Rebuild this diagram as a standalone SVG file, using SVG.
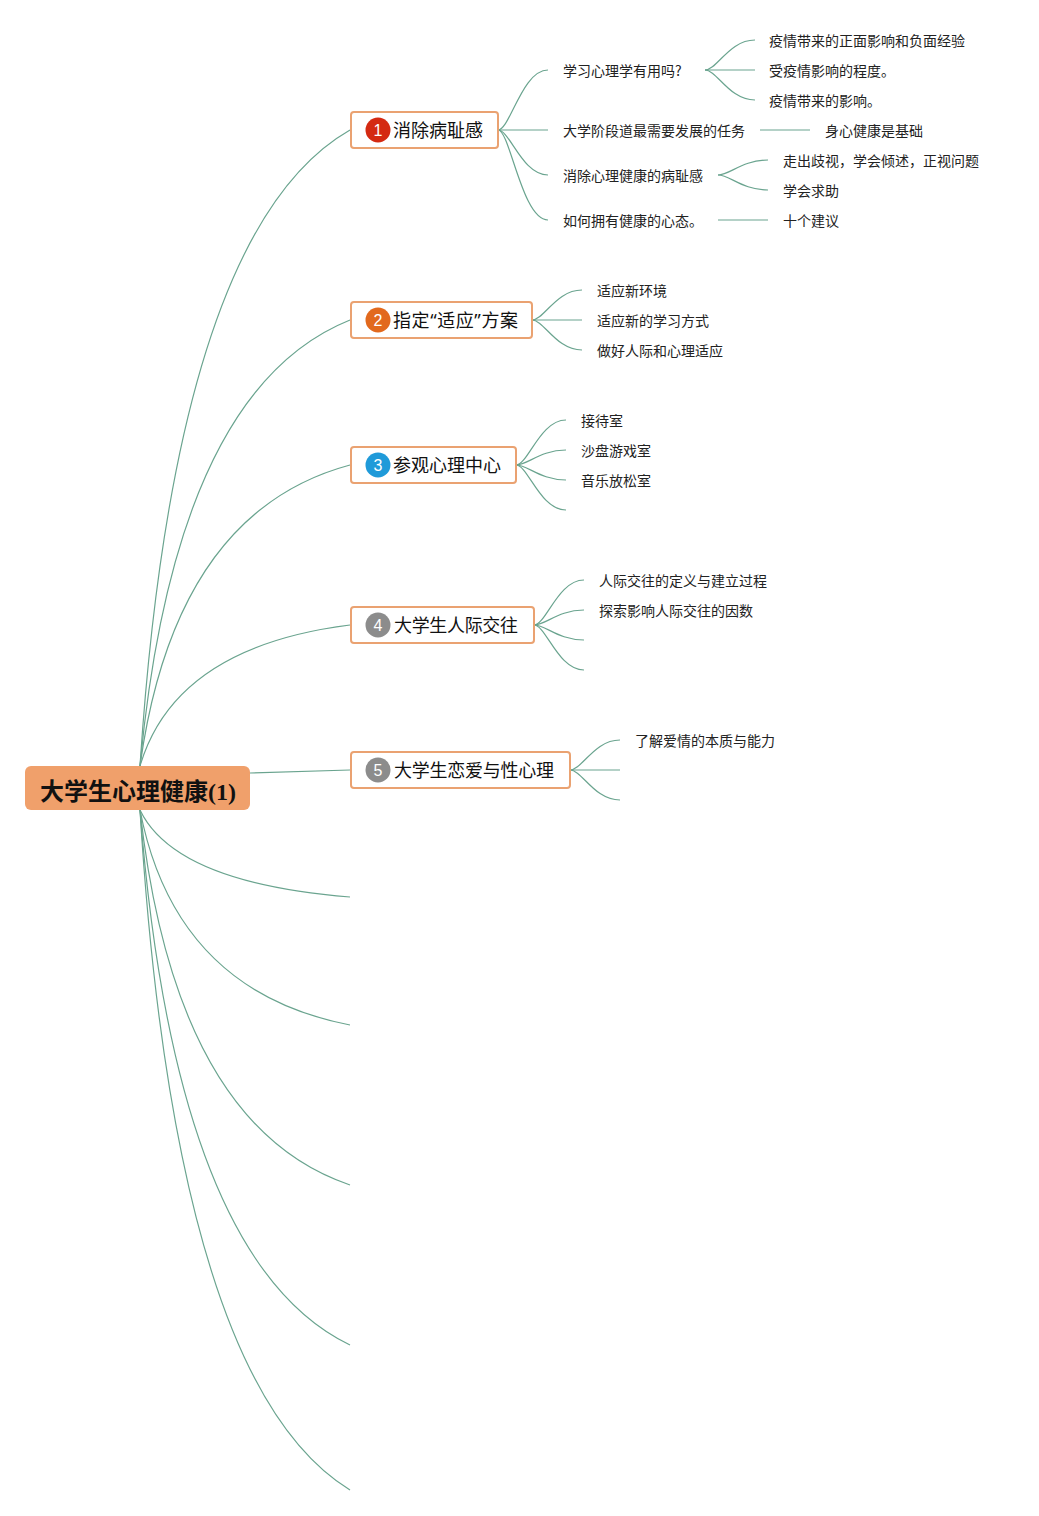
<svg xmlns="http://www.w3.org/2000/svg" width="1039" height="1516" viewBox="0 0 1039 1516">
<style>
.ln{fill:none;stroke:#6aa48f;stroke-width:1.2}
.box{fill:#fff;stroke:#eaa271;stroke-width:2}
.nt{font-family:"Noto Sans CJK SC",sans-serif;font-size:18px;fill:#111}
.q{font-family:"Noto Sans","Liberation Sans",sans-serif}
.lf{font-family:"Noto Sans CJK SC",sans-serif;font-size:14px;fill:#222}
.num{font-family:"Liberation Sans",sans-serif;font-size:16px;fill:#fff;text-anchor:middle}
</style>
<rect width="1039" height="1516" fill="#fff"/>
<g id="connectors">
<path class="ln" d="M140,766 Q175,230 350,130"/>
<path class="ln" d="M140,766 Q175,390 350,320"/>
<path class="ln" d="M140,766 Q175,512 350,465"/>
<path class="ln" d="M140,766 Q175,647 350,625"/>
<path class="ln" d="M250,773 L350,770"/>
<path class="ln" d="M140,810 Q175,883 350,897"/>
<path class="ln" d="M140,810 Q175,991 350,1025"/>
<path class="ln" d="M140,810 Q175,1126 350,1185"/>
<path class="ln" d="M140,810 Q175,1261 350,1345"/>
<path class="ln" d="M140,810 Q175,1383 350,1490"/>
<path class="ln" d="M498,130 C510,130 522,70 548,70"/>
<path class="ln" d="M498,130 L548,130"/>
<path class="ln" d="M498,130 C510,130 522,175 548,175"/>
<path class="ln" d="M498,130 C510,130 522,220 548,220"/>
<path class="ln" d="M705,70 C717,70 729,40 755,40"/>
<path class="ln" d="M705,70 L755,70"/>
<path class="ln" d="M705,70 C717,70 729,100 755,100"/>
<path class="ln" d="M760,130 L810,130"/>
<path class="ln" d="M718,175 C730,175 742,160 768,160"/>
<path class="ln" d="M718,175 C730,175 742,190 768,190"/>
<path class="ln" d="M718,220 L768,220"/>
<path class="ln" d="M532,320 C544,320 556,290 582,290"/>
<path class="ln" d="M532,320 L582,320"/>
<path class="ln" d="M532,320 C544,320 556,350 582,350"/>
<path class="ln" d="M516,465 C528,465 540,420 566,420"/>
<path class="ln" d="M516,465 C528,465 540,450 566,450"/>
<path class="ln" d="M516,465 C528,465 540,480 566,480"/>
<path class="ln" d="M516,465 C528,465 540,510 566,510"/>
<path class="ln" d="M534,625 C546,625 558,580 584,580"/>
<path class="ln" d="M534,625 C546,625 558,610 584,610"/>
<path class="ln" d="M534,625 C546,625 558,640 584,640"/>
<path class="ln" d="M534,625 C546,625 558,670 584,670"/>
<path class="ln" d="M570,770 C582,770 594,740 620,740"/>
<path class="ln" d="M570,770 L620,770"/>
<path class="ln" d="M570,770 C582,770 594,800 620,800"/>
</g>
<g id="root">
<rect x="25" y="766" width="225" height="44" rx="6" fill="#f0a06b"/>
<text x="40" y="800" font-size="24" font-weight="bold" fill="#111"><tspan font-family="Noto Sans CJK SC, sans-serif">大学生心理健康</tspan><tspan font-family="Liberation Serif, serif">(1)</tspan></text>
</g>
<g id="n1">
<rect class="box" x="351" y="112" width="147" height="36" rx="3"/>
<circle cx="378" cy="130" r="12.5" fill="#d42a12"/>
<text class="num" x="378" y="136">1</text>
<text class="nt" x="393" y="137" textLength="90" lengthAdjust="spacing">消除病耻感</text>
</g>
<g id="n2">
<rect class="box" x="351" y="302" width="181" height="36" rx="3"/>
<circle cx="378" cy="320" r="12.5" fill="#e2691d"/>
<text class="num" x="378" y="326">2</text>
<text class="nt" x="393" y="327" textLength="125" lengthAdjust="spacing">指定<tspan class="q">“</tspan>适应<tspan class="q">”</tspan>方案</text>
</g>
<g id="n3">
<rect class="box" x="351" y="447" width="165" height="36" rx="3"/>
<circle cx="378" cy="465" r="12.5" fill="#1f9ad9"/>
<text class="num" x="378" y="471">3</text>
<text class="nt" x="393" y="472" textLength="108" lengthAdjust="spacing">参观心理中心</text>
</g>
<g id="n4">
<rect class="box" x="351" y="607" width="183" height="36" rx="3"/>
<circle cx="378" cy="625" r="12.5" fill="#8c8c8c"/>
<text class="num" x="378" y="631">4</text>
<text class="nt" x="394" y="632" textLength="124" lengthAdjust="spacing">大学生人际交往</text>
</g>
<g id="n5">
<rect class="box" x="351" y="752" width="219" height="36" rx="3"/>
<circle cx="378" cy="770" r="12.5" fill="#8c8c8c"/>
<text class="num" x="378" y="776">5</text>
<text class="nt" x="394" y="777" textLength="160" lengthAdjust="spacing">大学生恋爱与性心理</text>
</g>
<g id="leaves">
<text class="lf" x="563" y="76">学习心理学有用吗?</text>
<text class="lf" x="563" y="136">大学阶段道最需要发展的任务</text>
<text class="lf" x="563" y="181">消除心理健康的病耻感</text>
<text class="lf" x="563" y="226">如何拥有健康的心态。</text>
<text class="lf" x="769" y="46">疫情带来的正面影响和负面经验</text>
<text class="lf" x="769" y="76">受疫情影响的程度。</text>
<text class="lf" x="769" y="106">疫情带来的影响。</text>
<text class="lf" x="825" y="136">身心健康是基础</text>
<text class="lf" x="783" y="166">走出歧视，学会倾述，正视问题</text>
<text class="lf" x="783" y="196">学会求助</text>
<text class="lf" x="783" y="226">十个建议</text>
<text class="lf" x="597" y="296">适应新环境</text>
<text class="lf" x="597" y="326">适应新的学习方式</text>
<text class="lf" x="597" y="356">做好人际和心理适应</text>
<text class="lf" x="581" y="426">接待室</text>
<text class="lf" x="581" y="456">沙盘游戏室</text>
<text class="lf" x="581" y="486">音乐放松室</text>
<text class="lf" x="599" y="586">人际交往的定义与建立过程</text>
<text class="lf" x="599" y="616">探索影响人际交往的因数</text>
<text class="lf" x="635" y="746">了解爱情的本质与能力</text>
</g>
</svg>
